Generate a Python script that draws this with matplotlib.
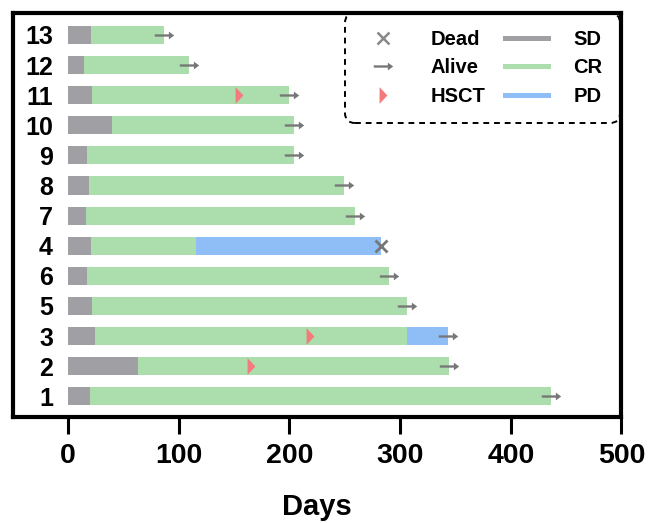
import numpy as np
import matplotlib
matplotlib.use("Agg")
import matplotlib.pyplot as plt
from matplotlib.path import Path
from matplotlib.lines import Line2D

plt.rcParams['font.family'] = ['Liberation Sans', 'DejaVu Sans']
plt.rcParams['font.weight'] = 'bold'

# patients, bottom to top as drawn
patients = ['1', '2', '3', '5', '6', '4', '7', '8', '9', '10', '11', '12', '13']
sd_end = [20, 63, 24, 22, 17, 21, 16, 19, 17, 40, 22, 14, 21]
cr_end = [436, 344, 306, 306, 290, 116, 259, 249.5, 204, 204, 199.5, 109, 87]
pd_end = [np.nan, np.nan, 343.5, np.nan, np.nan, 282.5, np.nan, np.nan, np.nan, np.nan, np.nan, np.nan, np.nan]
hsct_day = [np.nan, 165, 219, np.nan, np.nan, np.nan, np.nan, np.nan, np.nan, np.nan, 154, np.nan, np.nan]
status = ['alive', 'alive', 'alive', 'alive', 'alive', 'dead', 'alive', 'alive', 'alive', 'alive', 'alive', 'alive', 'alive']

c_sd = '#a09fa4'
c_cr = '#acdead'
c_pd = '#8fbef6'
c_hsct = '#f47a7b'
c_mark = '#777777'

# custom marker shapes
arrow = Path([(-1, -0.12), (0.45, -0.12), (0.45, -0.4), (1, 0), (0.45, 0.4),
              (0.45, 0.12), (-1, 0.12), (-1, -0.12)])
tri = Path([(-0.47, -1), (0.47, 0), (-0.47, 1), (-0.47, -1)])

fig = plt.figure(figsize=(6.48, 5.23), dpi=100)
ax = fig.add_axes([0.0196, 0.2027, 0.9395, 0.773])

y = np.arange(len(patients))
sd = np.array(sd_end)
cr = np.array(cr_end)
pdv = np.array(pd_end)

ax.barh(y, sd, left=0, height=0.6, color=c_sd, zorder=2)
ax.barh(y, cr - sd, left=sd, height=0.6, color=c_cr, zorder=2)
ax.barh(y, pdv - cr, left=cr, height=0.6, color=c_pd, zorder=2)

# end of follow-up
end = np.where(np.isnan(pdv), cr, pdv)
for yi, e, s in zip(y, end, status):
    if s == 'alive':
        ax.plot(e, yi, marker=arrow, ms=14, color=c_mark, mew=0, ls='none', zorder=4)
    else:
        ax.plot(e, yi, marker='x', ms=9, mew=2, color=c_mark, ls='none', zorder=4)

hs = np.array(hsct_day)
ax.plot(hs, y, marker=tri, ms=12, color=c_hsct, mew=0, ls='none', zorder=3)

ax.set_xlim(-50, 500)
ax.set_ylim(-0.69, 12.74)
ax.set_xticks([0, 100, 200, 300, 400, 500])
ax.set_yticks(y)
ax.set_yticklabels(patients)
ax.tick_params(axis='x', length=12, width=2.2, pad=7, labelsize=20.5)
ax.tick_params(axis='y', length=0, pad=-29, labelsize=18)
ax.set_xlabel('Days', fontsize=21, fontweight='bold', labelpad=17)

for sp in ax.spines.values():
    sp.set_linewidth(3)

handles = [
    Line2D([], [], marker='x', ms=9, mew=1.8, color='#888888', ls='none'),
    Line2D([], [], marker=arrow, ms=14, mew=0, color=c_mark, ls='none'),
    Line2D([], [], marker=tri, ms=12, mew=0, color=c_hsct, ls='none'),
    Line2D([], [], color=c_sd, lw=3.6),
    Line2D([], [], color=c_cr, lw=3.6),
    Line2D([], [], color=c_pd, lw=3.6),
]
labels = ['Dead', 'Alive', 'HSCT', 'SD', 'CR', 'PD']
leg = ax.legend(handles, labels, ncol=2, loc='upper right', bbox_to_anchor=(0.997, 1.0),
                borderaxespad=0, fontsize=14.5, handlelength=2.14, handletextpad=1.25,
                columnspacing=1.0, labelspacing=0.47, borderpad=0.85, fancybox=True,
                framealpha=1, edgecolor='black')
frame = leg.get_frame()
frame.set_boxstyle('round,pad=0,rounding_size=0.5')
frame.set_linestyle((0, (3, 2.5)))
frame.set_linewidth(1.4)
leg.set_zorder(1)

fig.savefig('out.png', dpi=100)
